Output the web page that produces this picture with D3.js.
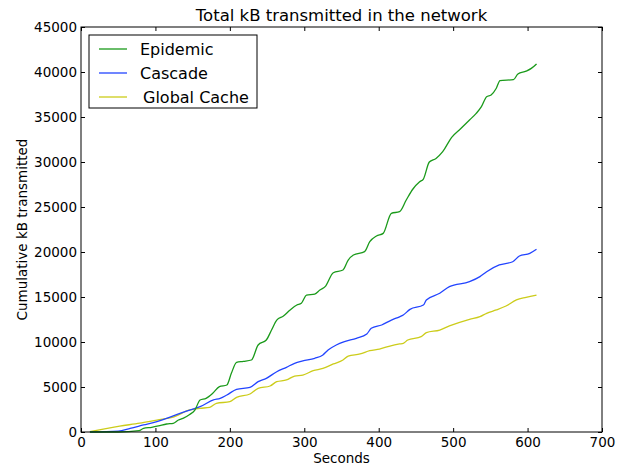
<html>
<head>
<style>
    body { margin: 0; background: #fff; }
    text { font-family: "DejaVu Sans", sans-serif; fill: #000; }
</style>
</head>
<body>
    <svg id="chart" width="623" height="466"></svg>
</body>
<script src="https://d3js.org/d3.v7.min.js"></script>
<script>
    // values (seconds, cumulative kB)
    let epidemicT = [12, 50, 78, 84, 95, 104, 115, 124, 131, 137, 146, 153, 160, 168, 177, 186, 196, 202, 209, 218, 229, 238, 249, 256, 263, 272, 281, 290, 296, 303, 314, 321, 328, 339, 352, 359, 366, 381, 388, 397, 406, 417, 428, 437, 446, 455, 460, 468, 477, 486, 498, 510, 522, 531, 538, 545, 551, 558, 563, 581, 587, 598, 605, 612]
    let epidemicKB = [0, 0, 150, 400, 520, 670, 890, 960, 1330, 1520, 1950, 2440, 3560, 3740, 4300, 5040, 5220, 6520, 7740, 7850, 8000, 9670, 10220, 11330, 12440, 12890, 13560, 14110, 14300, 15220, 15330, 15780, 16150, 17700, 18000, 19100, 19670, 20040, 21150, 21780, 22070, 24300, 24480, 25780, 27000, 27800, 28100, 30000, 30400, 31150, 32740, 33700, 34670, 35400, 36150, 37260, 37450, 38200, 39050, 39150, 39780, 40100, 40400, 40900]

    let cascadeT = [12, 50, 66, 84, 102, 115, 133, 146, 160, 178, 187, 196, 209, 227, 238, 249, 263, 276, 287, 298, 314, 325, 332, 343, 354, 370, 384, 390, 404, 417, 428, 433, 442, 460, 464, 482, 495, 522, 536, 545, 562, 580, 589, 603, 612]
    let cascadeKB = [0, 100, 400, 780, 1150, 1520, 2070, 2440, 2810, 3560, 3740, 4110, 4740, 4960, 5590, 5960, 6700, 7190, 7630, 7890, 8190, 8560, 9110, 9670, 10040, 10410, 10890, 11520, 11890, 12440, 12800, 13000, 13630, 14110, 14670, 15410, 16150, 16700, 17260, 17810, 18560, 18920, 19560, 19850, 20300]

    let cacheT = [12, 52, 79, 102, 124, 146, 160, 173, 182, 200, 209, 227, 238, 254, 263, 276, 287, 298, 312, 325, 339, 352, 359, 375, 388, 401, 415, 428, 433, 439, 457, 464, 482, 495, 522, 536, 545, 558, 571, 585, 598, 612]
    let cacheKB = [50, 650, 980, 1330, 1650, 2450, 2630, 2740, 3190, 3370, 3850, 4220, 4850, 5110, 5590, 5780, 6220, 6330, 6810, 7070, 7560, 8000, 8440, 8670, 9030, 9220, 9550, 9780, 9850, 10220, 10590, 11040, 11330, 11780, 12520, 12810, 13190, 13560, 14000, 14670, 14960, 15220]

    let seriesNames = ["Epidemic", "Cascade", "Global Cache"]
    let seriesColors = ["#1a9a1a", "#2244ff", "#cccc1a"]
    let xTicks = [0, 100, 200, 300, 400, 500, 600, 700]
    let yTicks = [0, 5000, 10000, 15000, 20000, 25000, 30000, 35000, 40000, 45000]

    let svg = d3.select("#chart")
    let plotLeft = 81, plotRight = 602, plotTop = 27, plotBottom = 432

    let x = d3.scaleLinear().domain([0, 700]).range([plotLeft, plotRight])
    let y = d3.scaleLinear().domain([0, 45000]).range([plotBottom, plotTop])

    svg.append("rect").attr("width", 623).attr("height", 466).attr("fill", "#fff")

    // lines
    let series = [
        epidemicT.map((t, i) => [t, epidemicKB[i]]),
        cascadeT.map((t, i) => [t, cascadeKB[i]]),
        cacheT.map((t, i) => [t, cacheKB[i]])
    ]
    let line = d3.line()
        .x(d => x(d[0]))
        .y(d => y(d[1]))
        .curve(d3.curveMonotoneX)

    // draw yellow first so green sits on top, like the original
    for (let i = series.length - 1; i >= 0; i--) {
        svg.append("path")
            .attr("d", line(series[i]))
            .attr("fill", "none")
            .attr("stroke", seriesColors[i])
            .attr("stroke-width", 1.3)
    }

    // axes, ticks pointing inwards on all four sides
    function styleAxis(g) {
        g.select(".domain").remove()
        g.selectAll(".tick line").attr("stroke", "#000")
        g.selectAll(".tick text").attr("font-size", "13.5px").attr("fill", "#000")
    }
    svg.append("g")
        .attr("transform", `translate(0,${plotBottom})`)
        .call(d3.axisBottom(x).tickValues(xTicks).tickSize(-4).tickPadding(5).tickFormat(d3.format("d")))
        .call(styleAxis)
    svg.append("g")
        .attr("transform", `translate(0,${plotTop})`)
        .call(d3.axisTop(x).tickValues(xTicks).tickSize(-4).tickFormat(""))
        .call(styleAxis)
    svg.append("g")
        .attr("transform", `translate(${plotLeft},0)`)
        .call(d3.axisLeft(y).tickValues(yTicks).tickSize(-4).tickPadding(4).tickFormat(d3.format("d")))
        .call(styleAxis)
    svg.append("g")
        .attr("transform", `translate(${plotRight},0)`)
        .call(d3.axisRight(y).tickValues(yTicks).tickSize(-4).tickFormat(""))
        .call(styleAxis)

    svg.append("rect")
        .attr("x", plotLeft).attr("y", plotTop)
        .attr("width", plotRight - plotLeft).attr("height", plotBottom - plotTop)
        .attr("fill", "none").attr("stroke", "#000").attr("stroke-width", 1)

    // titles
    svg.append("text")
        .attr("x", (plotLeft + plotRight) / 2).attr("y", 21)
        .attr("text-anchor", "middle").attr("font-size", "16.5px")
        .text("Total kB transmitted in the network")
    svg.append("text")
        .attr("x", (plotLeft + plotRight) / 2).attr("y", 463)
        .attr("text-anchor", "middle").attr("font-size", "13.5px")
        .text("Seconds")
    svg.append("text")
        .attr("transform", `translate(27,${(plotTop + plotBottom) / 2}) rotate(-90)`)
        .attr("text-anchor", "middle").attr("font-size", "13.5px")
        .text("Cumulative kB transmitted")

    // legend
    let legend = svg.append("g").attr("transform", "translate(89,35)")
    legend.append("rect")
        .attr("width", 168).attr("height", 73)
        .attr("fill", "#fff").attr("stroke", "#000").attr("stroke-width", 1)
    seriesNames.forEach((name, i) => {
        let ly = 14 + i * 24
        legend.append("line")
            .attr("x1", 10).attr("x2", 38).attr("y1", ly).attr("y2", ly)
            .attr("stroke", seriesColors[i]).attr("stroke-width", 1.3)
        legend.append("text")
            .attr("x", name == "Global Cache" ? 54 : 51).attr("y", ly + 6)
            .attr("font-size", "16px")
            .text(name)
    })
</script>
</html>
